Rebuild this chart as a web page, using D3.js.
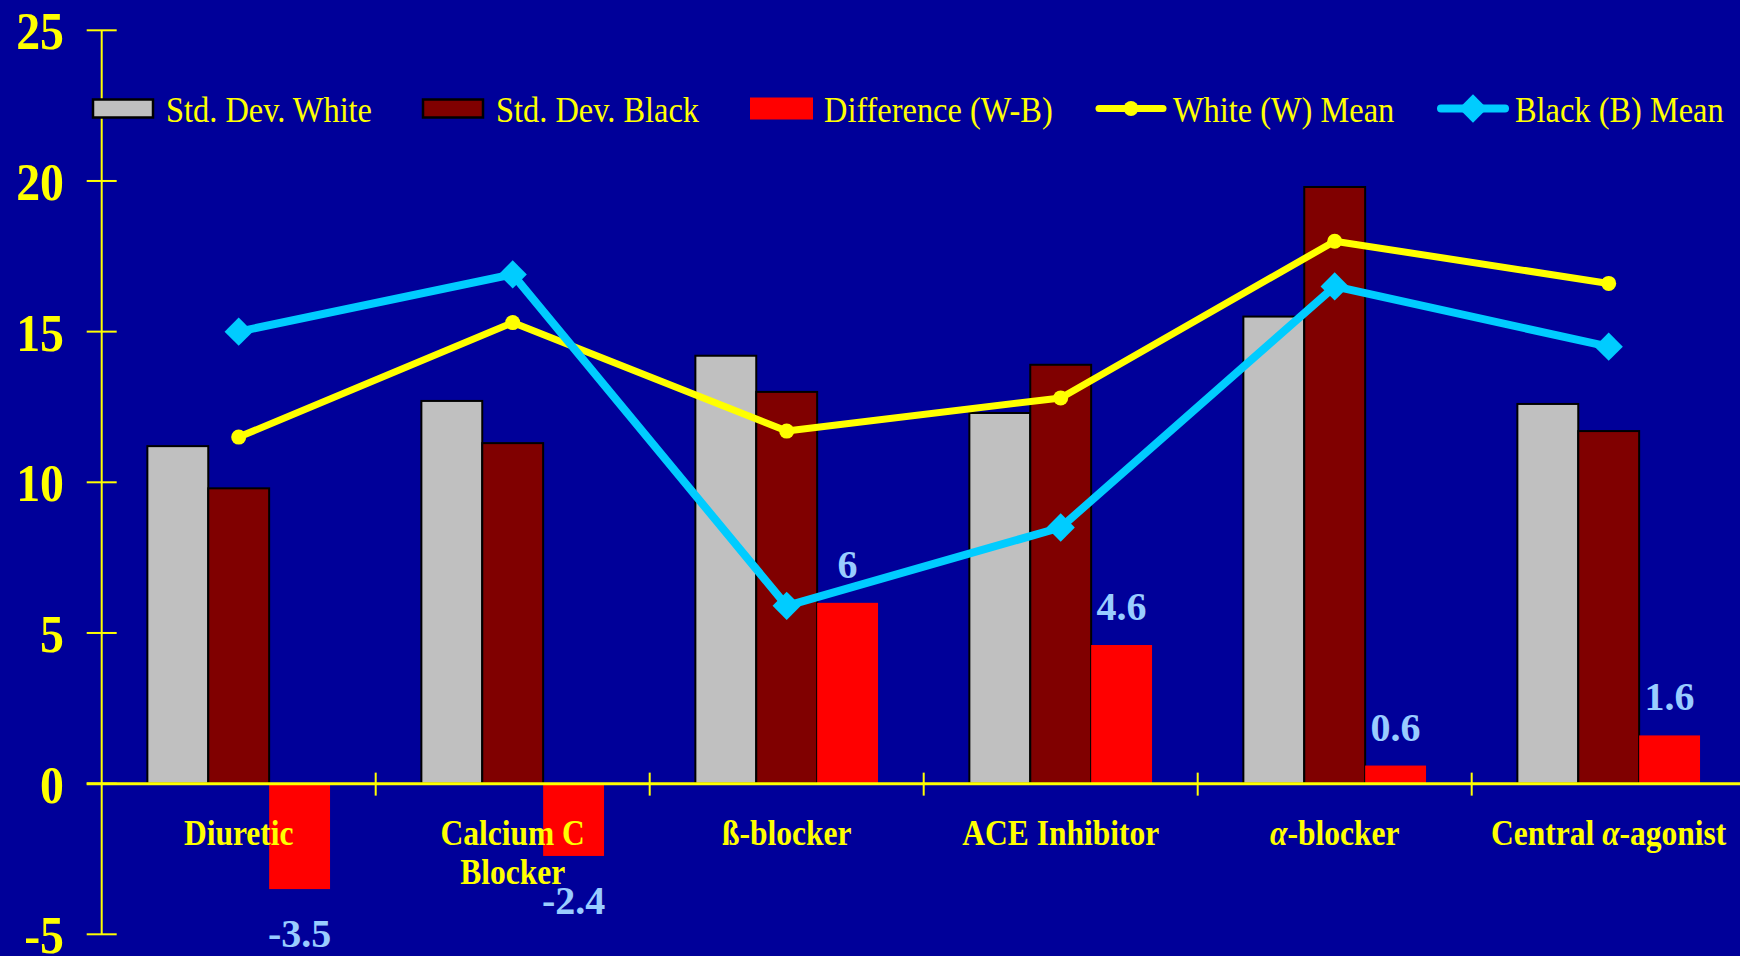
<!DOCTYPE html>
<html>
<head>
<meta charset="utf-8">
<script src="https://cdn.jsdelivr.net/npm/d3@7"></script>
<style>
  html, body { margin: 0; padding: 0; background: #000099; }
  svg { display: block; }
  text { font-family: "Liberation Serif", "Times New Roman", serif; }
</style>
</head>
<body>
<svg id="chart" width="1740" height="956"></svg>
<script>
// ---- data ----
const categories = ["Diuretic", "Calcium C|Blocker", "ß-blocker", "ACE Inhibitor", "α-blocker", "Central α-agonist"];
const sdWhite   = [11.2, 12.7, 14.2, 12.3, 15.5, 12.6];
const sdBlack   = [9.8, 11.3, 13.0, 13.9, 19.8, 11.7];
const diffWB    = [-3.5, -2.4, 6, 4.6, 0.6, 1.6];
const whiteMean = [11.5, 15.3, 11.7, 12.8, 18.0, 16.6];
const blackMean = [15.0, 16.9, 5.9, 8.5, 16.5, 14.5];
const yTicks    = [-5, 0, 5, 10, 15, 20, 25];
const legendNames = ["Std. Dev. White", "Std. Dev. Black", "Difference (W-B)", "White (W) Mean", "Black (B) Mean"];

// ---- layout ----
const W = 1740, H = 956;
const plotLeft = 101.7, plotRight = 1745.7, yTop = 30.3, yBottom = 934.3;
const YELLOW = "#FFFF00", CYAN = "#00CCFF", GRAY = "#C0C0C0", MAROON = "#800000", RED = "#FF0000", LABEL = "#99CCFF";

const svg = d3.select("#chart");
svg.append("rect").attr("width", W).attr("height", H).attr("fill", "#000099");

const y = d3.scaleLinear().domain([-5, 25]).range([yBottom, yTop]);
const x = d3.scaleBand().domain(d3.range(categories.length)).range([plotLeft, plotRight]).paddingInner(0).paddingOuter(0);
const seriesKeys = ["w", "b", "d"];
const xs = d3.scaleBand().domain(seriesKeys).range([0, x.bandwidth()]).paddingInner(0).paddingOuter(0.75);
const cx = i => x(i) + x.bandwidth() / 2;

function sq(sel, tx, ty, sx) {
  return sel.attr("transform", `translate(${tx},${ty}) scale(${sx},1)`);
}

// ---- bars ----
const barData = [];
categories.forEach((c, i) => {
  barData.push({i, k: "w", v: sdWhite[i], fill: GRAY, stroke: "#000"});
  barData.push({i, k: "b", v: sdBlack[i], fill: MAROON, stroke: "#000"});
  barData.push({i, k: "d", v: diffWB[i], fill: RED, stroke: "none"});
});
svg.append("g").selectAll("rect").data(barData).join("rect")
  .attr("x", d => x(d.i) + xs(d.k))
  .attr("width", xs.bandwidth())
  .attr("y", d => y(Math.max(0, d.v)))
  .attr("height", d => Math.abs(y(d.v) - y(0)))
  .attr("fill", d => d.fill)
  .attr("stroke", d => d.stroke)
  .attr("stroke-width", 2);

// ---- y axis ----
const ax = svg.append("g");
ax.append("line").attr("x1", plotLeft).attr("x2", plotLeft).attr("y1", y(25)).attr("y2", y(-5))
  .attr("stroke", YELLOW).attr("stroke-width", 2);
ax.selectAll("line.t").data(yTicks).join("line").attr("class", "t")
  .attr("x1", plotLeft - 15).attr("x2", plotLeft + 15)
  .attr("y1", d => y(d)).attr("y2", d => y(d))
  .attr("stroke", YELLOW).attr("stroke-width", 2);
ax.selectAll("text").data(yTicks).join("text")
  .each(function(d) { sq(d3.select(this), 64, y(d) + 19, 0.92); })
  .attr("text-anchor", "end")
  .attr("font-size", 52).attr("font-weight", "bold").attr("fill", YELLOW)
  .text(d => d);

// ---- zero line with category separators ----
svg.append("line").attr("x1", plotLeft - 15).attr("x2", W).attr("y1", y(0)).attr("y2", y(0))
  .attr("stroke", YELLOW).attr("stroke-width", 3);
svg.append("g").selectAll("line").data(d3.range(1, categories.length)).join("line")
  .attr("x1", d => x(d)).attr("x2", d => x(d))
  .attr("y1", y(0) - 11).attr("y2", y(0) + 12)
  .attr("stroke", YELLOW).attr("stroke-width", 2);

// ---- category labels ----
const catG = svg.append("g");
categories.forEach((c, i) => {
  c.split("|").forEach((line, j) => {
    const t = catG.append("text").attr("text-anchor", "middle")
      .attr("font-size", 35).attr("font-weight", "bold").attr("fill", YELLOW);
    sq(t, cx(i), 845 + j * 39, 0.9);
    const parts = line.split("α");
    parts.forEach((p, k) => {
      if (k > 0) t.append("tspan").attr("font-style", "italic").text("α");
      if (p) t.append("tspan").text(p);
    });
  });
});

// ---- lines ----
const line = d3.line().x((d, i) => cx(i)).y(d => y(d));
svg.append("path").datum(whiteMean).attr("d", line).attr("fill", "none")
  .attr("stroke", YELLOW).attr("stroke-width", 7).attr("stroke-linejoin", "round");
svg.append("g").selectAll("circle").data(whiteMean).join("circle")
  .attr("cx", (d, i) => cx(i)).attr("cy", d => y(d)).attr("r", 7.5).attr("fill", YELLOW);

svg.append("path").datum(blackMean).attr("d", line).attr("fill", "none")
  .attr("stroke", CYAN).attr("stroke-width", 8).attr("stroke-linejoin", "round");
const diamond = d3.symbol().type(d3.symbolSquare).size(400)();
svg.append("g").selectAll("path").data(blackMean).join("path")
  .attr("d", diamond)
  .attr("transform", (d, i) => `translate(${cx(i)},${y(d)}) rotate(45)`)
  .attr("fill", CYAN);

// ---- data labels on difference bars ----
svg.append("g").selectAll("text").data(diffWB).join("text")
  .attr("x", (d, i) => x(i) + xs("d") + xs.bandwidth() / 2)
  .attr("y", d => d >= 0 ? y(d) - 25 : y(d) + 58)
  .attr("text-anchor", "middle")
  .attr("font-size", 40).attr("font-weight", "bold").attr("fill", LABEL)
  .text(d => d);

// ---- legend ----
const legX = [92, 422, 750, 1096, 1438];
const legY = 108.5;
const lg = svg.append("g");
legendNames.forEach((name, i) => {
  const x0 = legX[i];
  if (i < 2) {
    lg.append("rect").attr("x", x0 + 1).attr("y", legY - 9).attr("width", 60).attr("height", 18)
      .attr("fill", i === 0 ? GRAY : MAROON).attr("stroke", "#000").attr("stroke-width", 2.5);
  } else if (i === 2) {
    lg.append("rect").attr("x", x0).attr("y", legY - 11).attr("width", 63).attr("height", 22).attr("fill", RED);
  } else {
    const col = i === 3 ? YELLOW : CYAN;
    lg.append("line").attr("x1", x0 + 3).attr("x2", x0 + 67).attr("y1", legY).attr("y2", legY)
      .attr("stroke", col).attr("stroke-width", i === 3 ? 7 : 8).attr("stroke-linecap", "round");
    if (i === 3) {
      lg.append("circle").attr("cx", x0 + 35).attr("cy", legY).attr("r", 7.5).attr("fill", col);
    } else {
      lg.append("path").attr("d", diamond).attr("transform", `translate(${x0 + 35},${legY}) rotate(45)`).attr("fill", col);
    }
  }
  const t = lg.append("text").attr("font-size", 36).attr("fill", YELLOW).text(name);
  sq(t, x0 + 74 + (i < 3 ? 0 : 3), 122, 0.9);
});
</script>
</body>
</html>
